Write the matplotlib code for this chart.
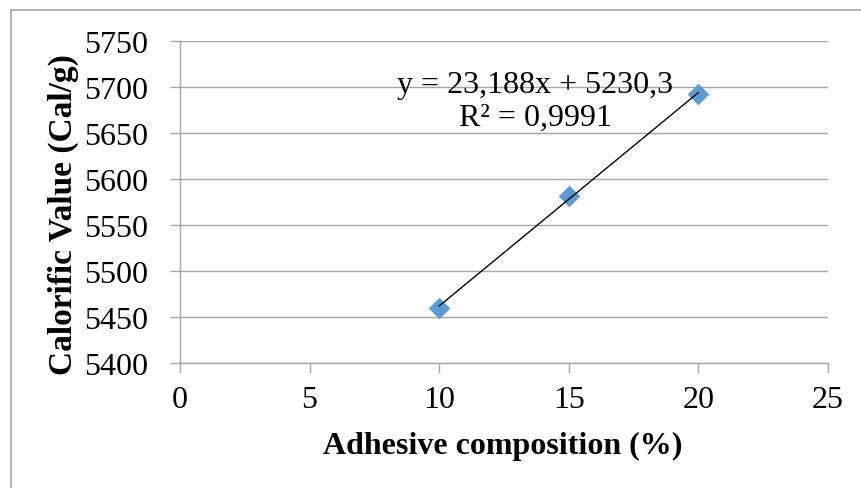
import numpy as np
import matplotlib.pyplot as plt
from matplotlib.lines import Line2D

adhesive = [10, 15, 20]
calorific = [5460, 5582, 5692]
eq_text = 'y = 23,188x + 5230,3\nR² = 0,9991'
x_ticks = [0, 5, 10, 15, 20, 25]
y_ticks = [5400, 5450, 5500, 5550, 5600, 5650, 5700, 5750]

plt.rcParams['font.family'] = 'Liberation Serif'
W, H = 861, 489
fig = plt.figure(figsize=(W / 100, H / 100), dpi=100)
ax = fig.add_axes([180 / W, 1 - 364 / H, (828 - 180) / W, (364 - 42) / H])

grey = '#A6A6A6'
ax.scatter(adhesive, calorific, marker='D', s=120, color='#5B9BD5', zorder=3, linewidths=0)

# linear trendline
k, b = np.polyfit(adhesive, calorific, 1)
xs = np.array([adhesive[0], adhesive[-1]])
ax.plot(xs, k * xs + b, color='black', linewidth=1, zorder=4)

ax.text(13.7, 5685, eq_text, ha='center', va='center', fontsize=23, linespacing=1.15, zorder=5)

ax.set_xlim(0, 25)
ax.set_ylim(5400, 5750)
ax.set_xticks(x_ticks)
ax.set_yticks(y_ticks)
ax.yaxis.grid(True, color=grey, linewidth=1)
ax.set_axisbelow(True)
for s in ['top', 'right']:
    ax.spines[s].set_visible(False)
for s in ['left', 'bottom']:
    ax.spines[s].set_color(grey)
    ax.spines[s].set_linewidth(1)
ax.tick_params(axis='both', colors=grey, length=7, width=1, labelsize=23, labelcolor='black')
ax.tick_params(axis='y', pad=16)
ax.tick_params(axis='x', pad=9)

ax.set_xlabel('Adhesive composition (%)', fontsize=23, fontweight='bold', va='center')
ax.xaxis.set_label_coords((503 - 180) / 648, (364 - 446) / 322)
ax.set_ylabel('Calorific Value (Cal/g)', fontsize=24, fontweight='bold', va='center')
ax.yaxis.set_label_coords((63 - 180) / 648, (364 - 215) / 322)

# chart area border
fig.add_artist(Line2D([11 / W, 11 / W], [0, 1 - 11 / H], transform=fig.transFigure, color=grey, linewidth=1.2))
fig.add_artist(Line2D([11 / W, 1], [1 - 11 / H, 1 - 11 / H], transform=fig.transFigure, color=grey, linewidth=1.2))

fig.savefig('out.png', dpi=100)
